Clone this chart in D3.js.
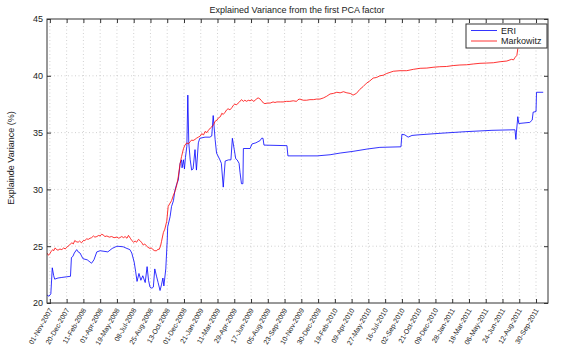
<!DOCTYPE html>
<html>
<head>
<meta charset="utf-8">
<script src="https://cdn.jsdelivr.net/npm/d3@7"></script>
<style>
  body { margin: 0; background: #fff; }
  text { font-family: "Liberation Sans", Arial, sans-serif; fill: #222; }
</style>
</head>
<body>
<div id="chart"></div>
<script>
var W = 568, H = 351;

var tickLabels = ['01-Nov-2007','20-Dec-2007','11-Feb-2008','01-Apr-2008','19-May-2008','08-Jul-2008',
  '25-Aug-2008','13-Oct-2008','01-Dec-2008','21-Jan-2009','11-Mar-2009','29-Apr-2009','17-Jun-2009',
  '05-Aug-2009','23-Sep-2009','10-Nov-2009','30-Dec-2009','19-Feb-2010','09-Apr-2010','27-May-2010',
  '16-Jul-2010','02-Sep-2010','21-Oct-2010','09-Dec-2010','28-Jan-2011','18-Mar-2011','06-May-2011',
  '24-Jun-2011','12-Aug-2011','30-Sep-2011'];
// trading day index of each label (every 35 trading days)
var tickDays = tickLabels.map(function(d, i) { return 6 + 35 * i; });
var yTicks = [20, 25, 30, 35, 40, 45];

// ERI series: trading day index / explained variance (%)
var eriDay = [0,4,8,11,14,16,23,31,40,49,51,54,57,62,65,69,75,84,90,93,98,104,111,119,127,136,146,159,167,173,
  177,182,185,188,192,196,200,205,209,212,215,219,222,225,229,232,236,239,242,244,248,251,252,257,260,264,267,
  271,274,278,281,282,285,287,289,292,294,296,299,302,305,309,312,316,319,330,340,344,347,351,354,361,364,368,
  372,379,384,387,391,394,397,401,403,406,409,410,424,428,436,445,448,451,453,501,503,564,591,612,639,668,695,
  739,741,747,754,762,775,825,873,929,977,979,980,983,985,1008,1013,1015,1021,1022,1036];
var eriVal = [20.7,20.6,20.8,23.1,22.4,22.1,22.2,22.25,22.3,22.35,24.0,24.1,24.4,24.7,24.5,24.4,23.9,23.8,23.6,
  23.5,23.8,24.5,24.6,24.55,24.5,24.8,25.0,24.95,24.8,24.7,24.4,23.6,22.8,21.9,22.6,22.0,22.4,21.8,23.2,22.0,
  21.4,21.3,21.4,23.0,22.3,21.8,21.1,21.6,22.2,21.5,23.0,25.5,26.7,27.6,28.5,29.0,29.9,30.5,30.8,32.3,32.6,31.9,
  32.6,31.8,32.8,33.8,38.3,34.1,32.6,31.7,31.8,33.5,31.7,34.1,34.5,34.6,34.6,34.7,36.5,34.4,33.2,32.6,32.3,30.2,
  32.5,32.6,32.6,34.5,33.5,32.7,32.6,32.3,31.5,30.5,30.5,33.6,33.6,34.0,34.1,34.3,34.5,34.5,33.9,33.85,32.95,
  32.95,33.05,33.2,33.35,33.55,33.7,33.75,34.85,34.8,34.6,34.75,34.8,34.95,35.08,35.2,35.25,34.4,35.0,36.4,35.8,
  35.9,36.1,36.8,36.85,38.55,38.55];

// Markowitz series
var mkwDay = [0,3,6,8,12,14,17,20,23,27,31,35,38,41,44,48,52,55,58,61,65,68,72,76,79,83,86,90,93,97,100,104,108,
  111,114,117,121,125,130,135,140,146,150,156,160,163,167,170,174,177,181,184,187,191,194,198,201,204,207,211,215,
  218,221,225,229,232,234,237,239,243,246,250,253,257,260,264,267,271,274,278,281,285,288,292,295,299,302,305,309,
  312,316,320,323,327,330,334,337,341,344,348,351,355,358,362,365,368,372,375,378,382,386,389,392,396,399,402,406,
  410,413,417,420,424,428,431,435,438,441,445,448,452,455,460,466,472,476,480,487,493,500,507,514,521,524,528,535,
  542,549,556,563,570,577,584,591,598,605,612,619,626,633,639,646,653,660,667,674,681,688,695,702,709,716,723,737,
  751,765,779,793,806,820,834,848,862,876,890,904,918,932,946,960,970,974,977,981,983];
var mkwVal = [24.4,24.2,24.35,24.5,24.7,24.6,24.85,24.7,24.65,24.75,24.7,24.85,24.75,24.9,25.0,25.15,25.3,25.2,
  25.5,25.4,25.35,25.45,25.3,25.5,25.5,25.65,25.6,25.7,25.75,25.9,25.8,25.85,25.95,25.9,26.05,26.0,25.85,25.9,
  25.8,25.85,25.75,25.8,25.7,25.85,25.75,25.85,25.7,25.95,25.7,25.5,25.35,25.45,25.35,25.6,25.5,25.3,25.1,25.2,
  25.05,24.9,24.8,24.85,24.7,24.6,24.6,24.75,24.7,25.0,25.4,26.2,26.5,27.2,28.5,28.8,29.0,29.5,29.8,30.4,31.1,
  32.3,32.9,33.6,33.9,34.1,34.0,34.2,34.35,34.3,34.4,34.5,34.6,34.7,34.9,34.8,35.1,35.0,35.2,35.4,35.5,35.7,
  36.0,36.1,36.3,36.4,36.7,36.6,36.8,37.0,37.1,37.0,37.2,37.4,37.5,37.45,37.6,37.7,37.9,37.75,37.85,37.75,37.85,
  37.8,37.9,37.75,37.85,38.0,38.05,37.95,37.8,37.6,37.55,37.6,37.6,37.7,37.65,37.7,37.7,37.7,37.75,37.75,37.8,
  37.75,37.9,37.95,37.85,37.85,37.9,37.9,37.95,37.95,38.05,38.2,38.4,38.45,38.55,38.5,38.6,38.5,38.45,38.3,38.45,
  38.8,39.05,39.35,39.55,39.8,39.85,40.0,40.05,40.2,40.3,40.4,40.45,40.45,40.57,40.66,40.68,40.75,40.8,40.82,
  40.9,40.95,40.97,41.04,41.1,41.12,41.15,41.24,41.3,41.45,41.4,41.6,41.8,42.4];

var seriesNames = ['ERI', 'Markowitz'];
var seriesColors = ['#0000ff', '#ff0000'];

var svg = d3.select('#chart').append('svg').attr('width', W).attr('height', H);
svg.append('rect').attr('width', W).attr('height', H).attr('fill', '#fff');

var pLeft = 47, pRight = 548, pTop = 19, pBottom = 303;
var x = d3.scaleLinear().domain([0, 1046]).range([pLeft, pRight]);
var y = d3.scaleLinear().domain([20, 45]).range([pBottom, pTop]);

// dotted grid
var grid = svg.append('g').attr('stroke', '#bdbdbd').attr('stroke-width', 0.7).attr('stroke-dasharray', '1,2.5');
grid.selectAll('.gx').data(tickDays).enter().append('line')
  .attr('x1', function(d) { return x(d); }).attr('x2', function(d) { return x(d); })
  .attr('y1', pTop).attr('y2', pBottom);
grid.selectAll('.gy').data(yTicks.slice(1, -1)).enter().append('line')
  .attr('y1', function(d) { return y(d); }).attr('y2', function(d) { return y(d); })
  .attr('x1', pLeft).attr('x2', pRight);

svg.append('clipPath').attr('id', 'clip').append('rect')
  .attr('x', pLeft).attr('y', pTop).attr('width', pRight - pLeft).attr('height', pBottom - pTop);

var line = d3.line().x(function(d) { return x(d[0]); }).y(function(d) { return y(d[1]); });
var series = [d3.zip(eriDay, eriVal), d3.zip(mkwDay, mkwVal)];

svg.append('g').attr('clip-path', 'url(#clip)').selectAll('path').data(series).enter().append('path')
  .attr('d', line).attr('fill', 'none').attr('stroke-width', 0.8)
  .attr('stroke', function(d, i) { return seriesColors[i]; });

// axes, ticks inward on all four sides
var xAxis = svg.append('g').attr('transform', 'translate(0,' + pBottom + ')')
  .call(d3.axisBottom(x).tickValues(tickDays).tickSizeInner(-4).tickSizeOuter(0)
    .tickFormat(function(d, i) { return tickLabels[i]; }));
xAxis.selectAll('text').attr('y', 0).attr('dy', 0)
  .attr('transform', 'translate(2.5,7) rotate(-60)')
  .style('text-anchor', 'end').style('font-size', '7px');
svg.append('g').attr('transform', 'translate(0,' + pTop + ')')
  .call(d3.axisTop(x).tickValues(tickDays).tickSizeInner(-4).tickSizeOuter(0).tickFormat(''));
var yAxis = svg.append('g').attr('transform', 'translate(' + pLeft + ',0)')
  .call(d3.axisLeft(y).tickValues(yTicks).tickSizeInner(-4).tickSizeOuter(0).tickPadding(4));
yAxis.selectAll('text').style('font-size', '9px');
svg.append('g').attr('transform', 'translate(' + pRight + ',0)')
  .call(d3.axisRight(y).tickValues(yTicks).tickSizeInner(-4).tickSizeOuter(0).tickFormat(''));
svg.selectAll('.domain').remove();
svg.selectAll('.tick line').attr('stroke', '#333');
svg.append('rect').attr('x', pLeft).attr('y', pTop).attr('width', pRight - pLeft).attr('height', pBottom - pTop)
  .attr('fill', 'none').attr('stroke', '#333').attr('stroke-width', 1);

// title and y label
svg.append('text').attr('x', 297).attr('y', 12.5).attr('text-anchor', 'middle')
  .style('font-size', '9px').text('Explained Variance from the first PCA factor');
svg.append('text').attr('transform', 'translate(13.5,158) rotate(-90)').attr('text-anchor', 'middle')
  .style('font-size', '9px').text('Explainde Variance (%)');

// legend
var lg = svg.append('g').attr('transform', 'translate(466,24)');
lg.append('rect').attr('width', 81).attr('height', 24).attr('fill', '#fff').attr('stroke', '#333').attr('stroke-width', 1);
var items = lg.selectAll('.item').data(seriesNames).enter().append('g')
  .attr('transform', function(d, i) { return 'translate(0,' + (6.5 + i * 10.5) + ')'; });
items.append('line').attr('x1', 5).attr('x2', 31).attr('stroke-width', 0.8)
  .attr('stroke', function(d, i) { return seriesColors[i]; });
items.append('text').attr('x', 35).attr('y', 3.2).style('font-size', '9px').text(function(d) { return d; });
</script>
</body>
</html>
